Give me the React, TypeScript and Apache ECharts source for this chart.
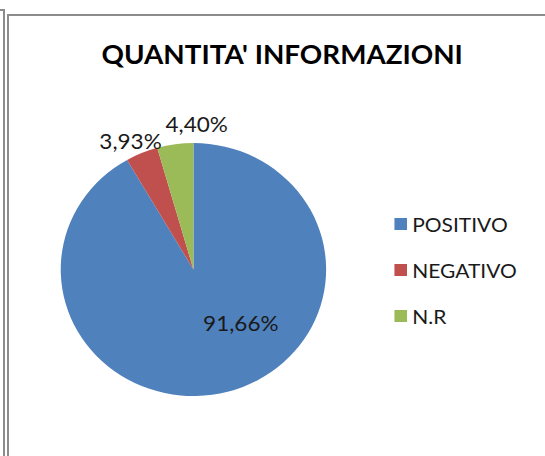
import React, { useEffect, useRef } from "react";
import * as echarts from "echarts";

const TITLE = "QUANTITA' INFORMAZIONI";
const CATEGORIES = ["POSITIVO", "NEGATIVO", "N.R"];
const VALUES = [91.66, 3.93, 4.4];
const LABELS = ["91,66%", "3,93%", "4,40%"];
const COLORS = ["#4F81BD", "#C0504D", "#9BBB59"];
const LABEL_POS = ["inside", "outside", "outside"];
const LABEL_DX = [28, 26, 56];
const LABEL_DY = [-11, -8, -16];

const SX = 1.049;

export default function App() {
  const ref = useRef<HTMLDivElement>(null);
  useEffect(() => {
    document.body.style.margin = "0";
    const chart = echarts.init(ref.current!, null, { renderer: "svg" });
    chart.setOption({
      animation: false,
      backgroundColor: "transparent",
      title: {
        text: TITLE,
        left: 264,
        textAlign: "center",
        top: 35,
        textStyle: {
          fontFamily: "Lato",
          fontWeight: "bold",
          fontSize: 26.5,
          color: "#000",
        },
      },
      legend: {
        orient: "vertical",
        left: 371,
        top: 208,
        itemWidth: 12,
        itemHeight: 12,
        itemGap: 24,
        itemStyle: { borderWidth: 0 },
        icon: "rect",
        data: CATEGORIES,
        textStyle: {
          fontFamily: "Lato",
          fontSize: 20,
          lineHeight: 22,
          color: "#1a1a1a",
          padding: [0, 0, 0, 0],
        },
      },
      series: [
        {
          type: "pie",
          center: [184.4, 269.5],
          radius: 126.5,
          startAngle: 90,
          clockwise: true,
          avoidLabelOverlap: false,
          labelLine: { show: false, length: 5, length2: 0 },
          itemStyle: { borderWidth: 0 },
          emphasis: { disabled: true },
          labelLayout: (p: any) => ({ dx: LABEL_DX[p.dataIndex], dy: LABEL_DY[p.dataIndex] }),
          data: CATEGORIES.map((c, i) => ({
            name: c,
            value: VALUES[i],
            itemStyle: { color: COLORS[i] },
            label: {
              show: true,
              position: LABEL_POS[i],
              formatter: LABELS[i],
              fontFamily: "Lato",
              fontSize: 21.5,
              color: "#1a1a1a",
            },
          })),
        },
      ],
    });
    return () => chart.dispose();
  }, []);
  return (
    <div style={{ position: "fixed", left: 0, top: 0, width: 545, height: 456, background: "#fff", overflow: "hidden" }}>
      <div style={{ position: "absolute", left: 0, top: 9, width: 4, height: 2, background: "#8c8c8c" }} />
      <div style={{ position: "absolute", left: 3, top: 9, width: 2, height: 447, background: "#8c8c8c" }} />
      <div style={{ position: "absolute", left: 7, top: 14, width: 2, height: 442, background: "#8c8c8c" }} />
      <div style={{ position: "absolute", left: 7, top: 14, width: 538, height: 2, background: "#8c8c8c" }} />
      <div
        ref={ref}
        style={{
          position: "absolute",
          left: 0,
          top: 0,
          width: 545 / SX,
          height: 456,
          transform: `scaleX(${SX})`,
          transformOrigin: "0 0",
        }}
      />
    </div>
  );
}
